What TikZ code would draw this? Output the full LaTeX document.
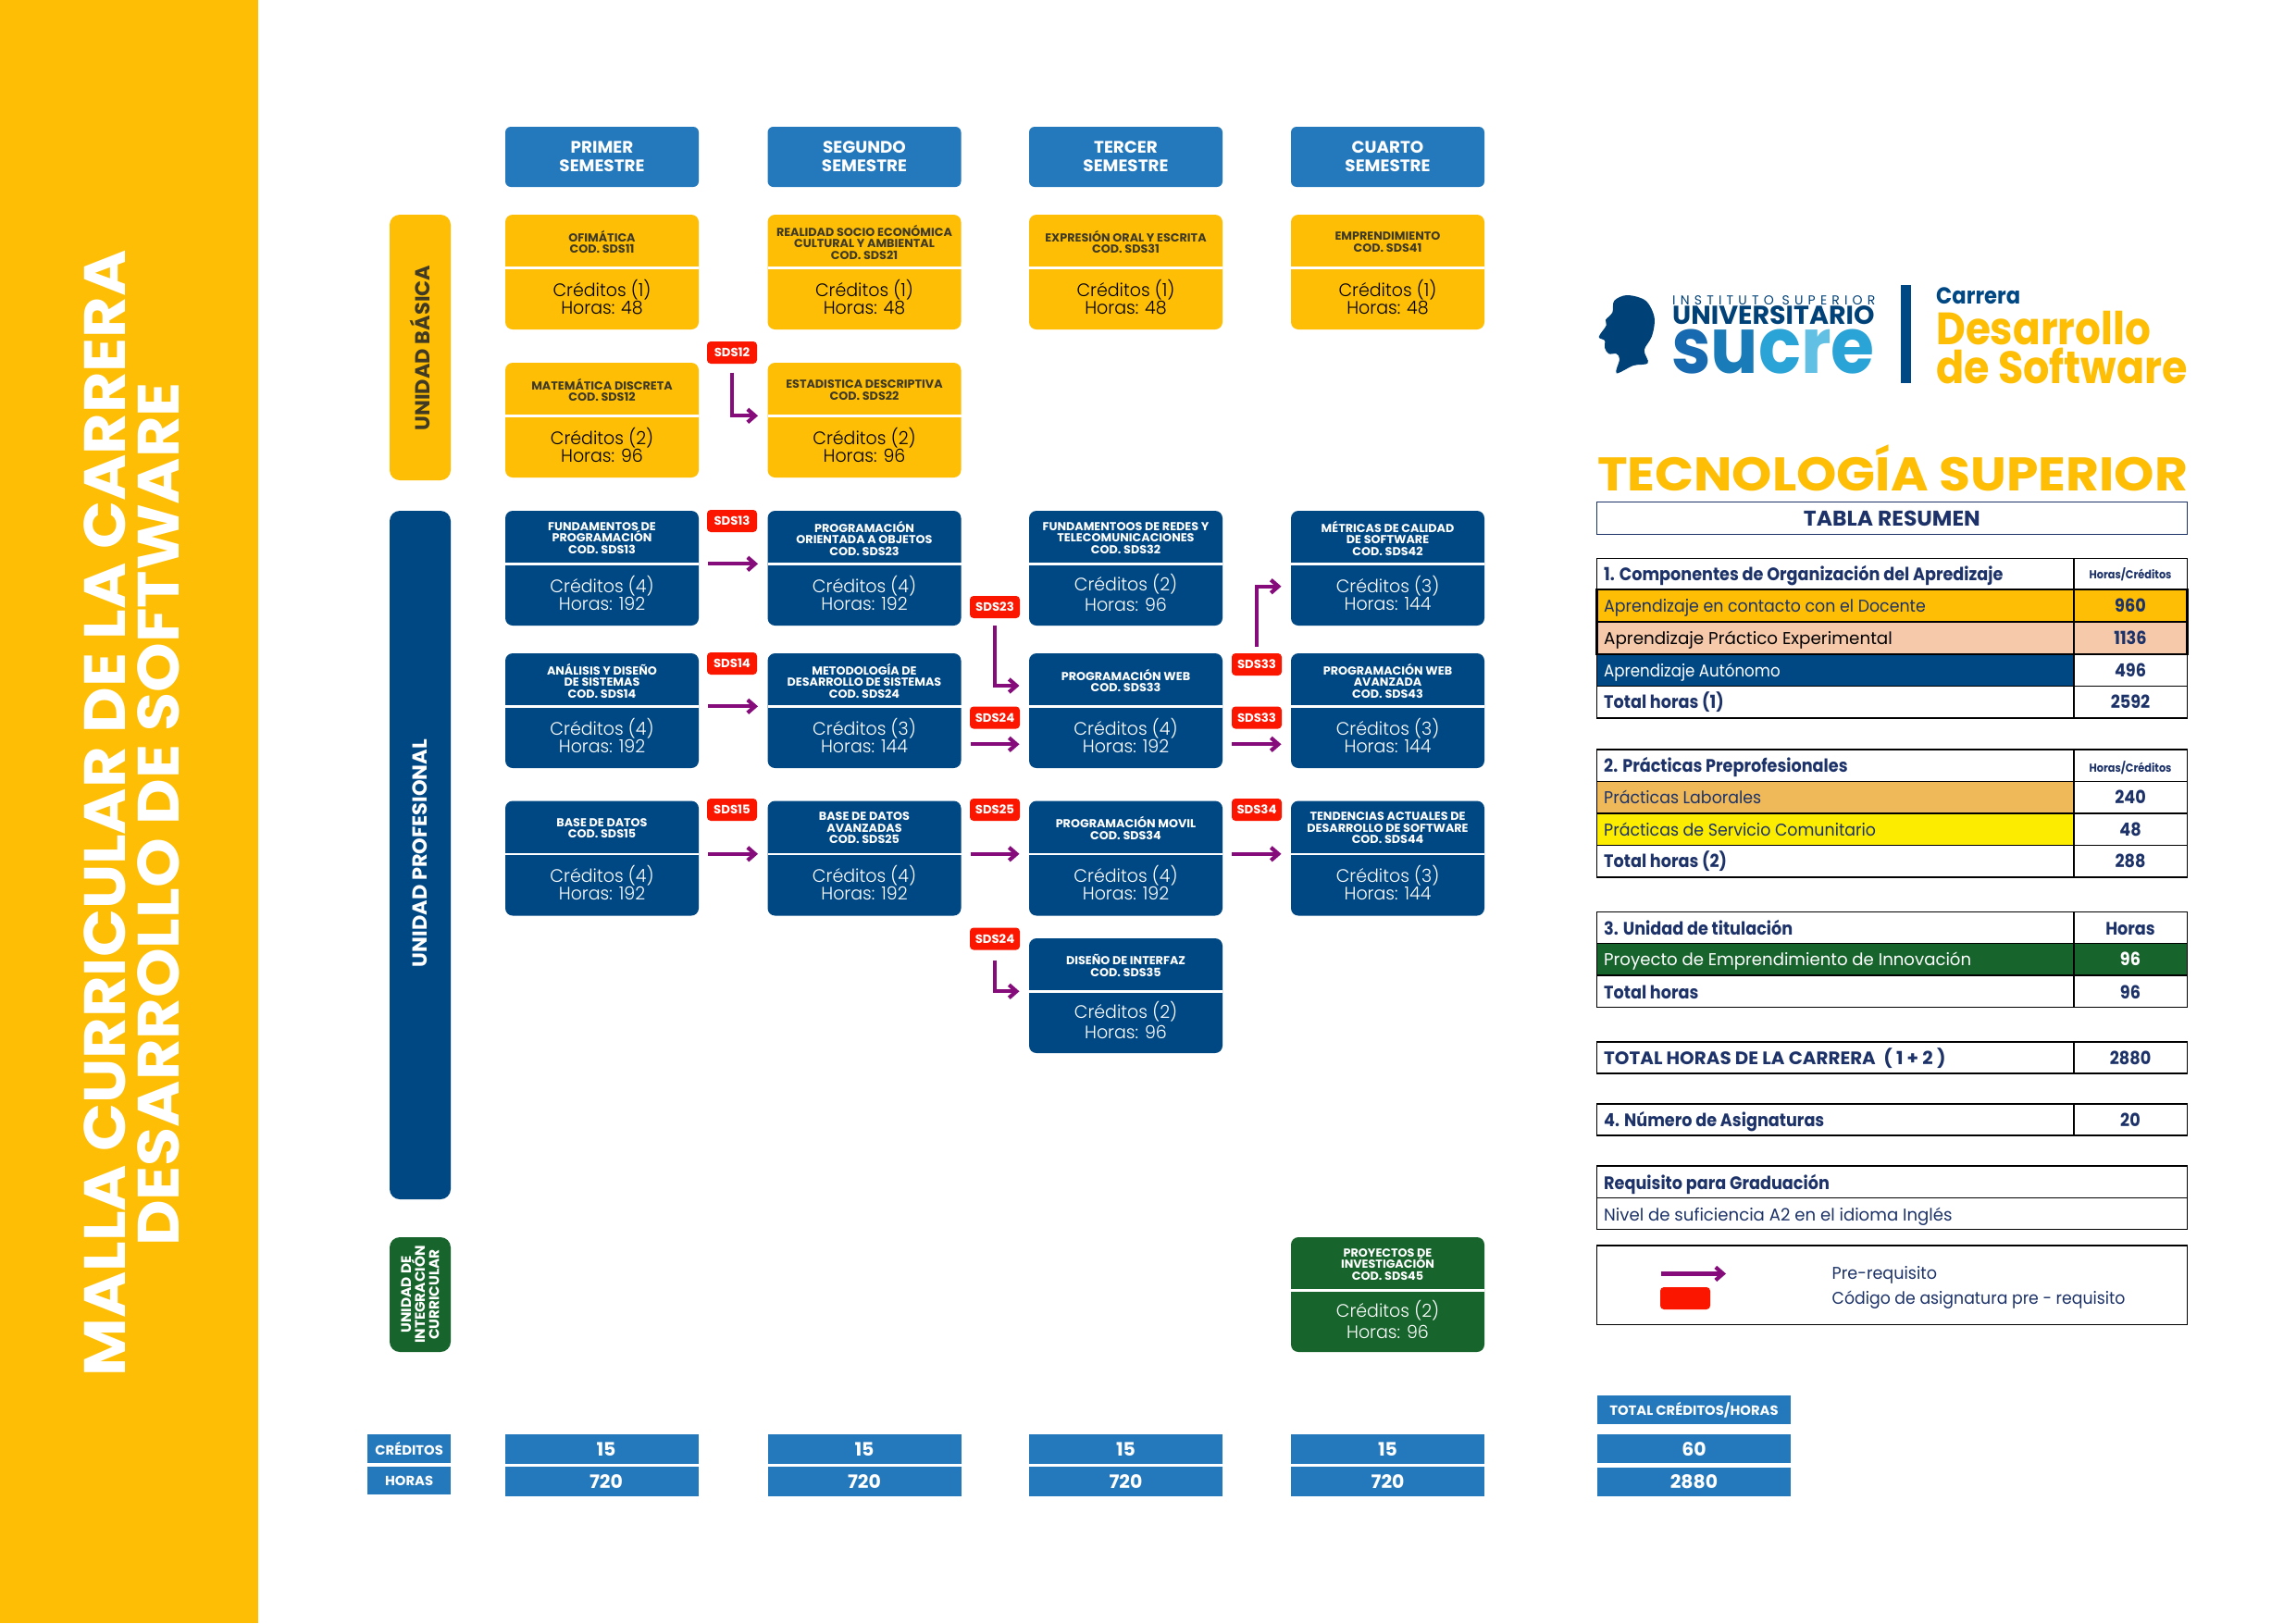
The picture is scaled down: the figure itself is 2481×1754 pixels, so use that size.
\documentclass[tikz,border=0pt]{standalone}
\usepackage{fontspec}
\usepackage{graphicx}
\usetikzlibrary{arrows.meta,calc}
\setmainfont{Poppins}
\newfontfamily\hvy{Poppins}[FakeStretch=1.02,BoldFont={Poppins Bold}]
\newfontfamily\sem{Poppins}[FakeStretch=0.905,BoldFont={Poppins Bold}]
\newfontfamily\lgt{Poppins Light}[FakeStretch=0.975]
\newfontfamily\reg{Poppins}
\newfontfamily\ttl{Poppins}[FakeStretch=1.085,BoldFont={Poppins Bold}]
\newcommand{\sx}[2]{\scalebox{#1}[1]{#2}}
\definecolor{band}{HTML}{FDBE05}
\definecolor{hdrblue}{HTML}{2478BC}
\definecolor{navy}{HTML}{004884}
\definecolor{dgreen}{HTML}{17652C}
\definecolor{tagred}{HTML}{FB1600}
\definecolor{prp}{HTML}{860C7C}
\definecolor{txtnavy}{HTML}{1C3268}
\definecolor{peach}{HTML}{F6C9AA}
\definecolor{orng}{HTML}{EFB95A}
\definecolor{yelw}{HTML}{FBEC00}
\definecolor{dtitle}{HTML}{403A25}
\tikzset{
  x=1pt,y=-1pt,
  cardbox/.style={rectangle,rounded corners=8pt,inner sep=0pt,outer sep=0pt,minimum width=209pt,minimum height=124pt,anchor=north west},
  headbox/.style={rectangle,rounded corners=6pt,fill=hdrblue,inner sep=0pt,outer sep=0pt,minimum width=209pt,minimum height=65pt,anchor=north west,text=white,align=center,font=\hvy\bfseries\fontsize{18}{20}\selectfont},
  unitbox/.style={rectangle,rounded corners=11pt,inner sep=0pt,outer sep=0pt,minimum width=66pt,anchor=north west},
  statbox/.style={rectangle,fill=hdrblue,inner sep=0pt,outer sep=0pt,anchor=north west,text=white,font=\hvy\bfseries\fontsize{20}{20}\selectfont},
  tagbox/.style={rectangle,rounded corners=4pt,fill=tagred,inner sep=0pt,outer sep=0pt,minimum width=54pt,minimum height=24pt,anchor=north west,text=white,font=\hvy\bfseries\fontsize{13}{13}\selectfont},
  pre/.style={draw=prp,line width=4.2pt,-{Straight Barb[length=8pt,width=14pt]}},
  ctitle/.style={align=center,inner sep=0pt,font=\hvy\bfseries\fontsize{12.5}{12.5}\selectfont},
  cbody/.style={align=center,inner sep=0pt,font=\lgt\fontsize{19.5}{19}\selectfont},
  rowline/.style={draw=black,line width=1.6pt},
  tlabel/.style={anchor=base west,yshift=-6.9pt,inner sep=0pt,font=\sem\bfseries\fontsize{19.5}{19.5}\selectfont,text=txtnavy},
  tbody/.style={anchor=base west,yshift=-6.5pt,inner sep=0pt,font=\reg\fontsize{18.5}{18.5}\selectfont},
  tval/.style={anchor=base,yshift=-6.9pt,inner sep=0pt,font=\sem\bfseries\fontsize{19.5}{19.5}\selectfont,text=txtnavy},
  tsmall/.style={anchor=base,yshift=-4.4pt,inner sep=0pt,font=\sem\bfseries\fontsize{12.5}{12.5}\selectfont,text=txtnavy},
  logotxt/.style={inner sep=0pt,anchor=base west},
}
\def\bodygap{0pt}
% course card: name, x, y, fill, text colour of title, text colour of body, title, credits, hours
\newcommand{\card}[9]{%
  \node[cardbox,fill=#4] (#1) at (#2,#3) {};
  \coordinate (#1-l) at (#2,#3+57.3);
  \coordinate (#1-r) at (#2+209,#3+57.3);
  \draw[white,line width=2.6pt] (#1-l) -- (#1-r);
  \node[ctitle,text=#5] (#1-t) at (#2+104.5,#3+29.5) {#7};
  \node[cbody,text=#6] (#1-b) at (#2+104.5,#3+88.7) {Créditos (#8)\\[\bodygap]Horas: #9};
}
\begin{document}
\begin{tikzpicture}
\useasboundingbox (0,0) rectangle (2481,1754);
\fill[white] (0,0) rectangle (2481,1754);
\fill[band] (0,0) rectangle (279,1754);
\node[rotate=90,inner sep=0pt,text=white,font=\ttl\bfseries\fontsize{63}{63}\selectfont] (title1) at (113,879) {MALLA CURRICULAR DE LA CARRERA};
\node[rotate=90,inner sep=0pt,text=white,font=\ttl\bfseries\fontsize{63}{63}\selectfont] (title2) at (171,880) {DESARROLLO DE SOFTWARE};

% semester headers
\node[headbox] (h1) at (546,137) {PRIMER\\SEMESTRE};
\node[headbox] (h2) at (829.5,137) {SEGUNDO\\SEMESTRE};
\node[headbox] (h3) at (1112,137) {TERCER\\SEMESTRE};
\node[headbox] (h4) at (1395,137) {CUARTO\\SEMESTRE};

% unit bars
\node[unitbox,fill=band,minimum height=287pt] (ub) at (421,232) {};
\node[rotate=90,inner sep=0pt,text=dtitle,font=\hvy\bfseries\fontsize{22}{22}\selectfont] (ubt) at (454,376) {UNIDAD BÁSICA};
\node[unitbox,fill=navy,minimum height=744pt] (up) at (421,552) {};
\node[rotate=90,inner sep=0pt,text=white,font=\hvy\bfseries\fontsize{22}{22}\selectfont] (upt) at (454,922) {UNIDAD PROFESIONAL};
\node[unitbox,fill=dgreen,minimum height=124pt] (ui) at (421,1337) {};
\node[rotate=90,inner sep=0pt,text=white,align=center,font=\hvy\bfseries\fontsize{15}{15.2}\selectfont] (uit) at (454,1399) {UNIDAD DE\\INTEGRACIÓN\\CURRICULAR};

% cards
\card{c11}{546}{232}{band}{dtitle}{black}{OFIMÁTICA\\COD. SDS11}{1}{48}
\card{c21}{829.5}{232}{band}{dtitle}{black}{REALIDAD SOCIO ECONÓMICA\\CULTURAL Y AMBIENTAL\\COD. SDS21}{1}{48}
\card{c31}{1112}{232}{band}{dtitle}{black}{EXPRESIÓN ORAL Y ESCRITA\\COD. SDS31}{1}{48}
\card{c41}{1395}{232}{band}{dtitle}{black}{EMPRENDIMIENTO\\COD. SDS41}{1}{48}
\card{c12}{546}{392}{band}{dtitle}{black}{MATEMÁTICA DISCRETA\\COD. SDS12}{2}{96}
\card{c22}{829.5}{392}{band}{dtitle}{black}{ESTADISTICA DESCRIPTIVA\\COD. SDS22}{2}{96}
\card{c13}{546}{552}{navy}{white}{white}{FUNDAMENTOS DE\\PROGRAMACIÓN\\COD. SDS13}{4}{192}
\card{c23}{829.5}{552}{navy}{white}{white}{PROGRAMACIÓN\\ORIENTADA A OBJETOS\\COD. SDS23}{4}{192}
\def\bodygap{3.5pt}
\card{c32}{1112}{552}{navy}{white}{white}{FUNDAMENTOOS DE REDES Y\\TELECOMUNICACIONES\\COD. SDS32}{2}{96}
\def\bodygap{0pt}
\card{c42}{1395}{552}{navy}{white}{white}{MÉTRICAS DE CALIDAD\\DE SOFTWARE\\COD. SDS42}{3}{144}
\card{c14}{546}{706}{navy}{white}{white}{ANÁLISIS Y DISEÑO\\DE SISTEMAS\\COD. SDS14}{4}{192}
\card{c24}{829.5}{706}{navy}{white}{white}{METODOLOGÍA DE\\DESARROLLO DE SISTEMAS\\COD. SDS24}{3}{144}
\card{c33}{1112}{706}{navy}{white}{white}{PROGRAMACIÓN WEB\\COD. SDS33}{4}{192}
\card{c43}{1395}{706}{navy}{white}{white}{PROGRAMACIÓN WEB\\AVANZADA\\COD. SDS43}{3}{144}
\card{c15}{546}{865.5}{navy}{white}{white}{BASE DE DATOS\\COD. SDS15}{4}{192}
\card{c25}{829.5}{865.5}{navy}{white}{white}{BASE DE DATOS\\AVANZADAS\\COD. SDS25}{4}{192}
\card{c34}{1112}{865.5}{navy}{white}{white}{PROGRAMACIÓN MOVIL\\COD. SDS34}{4}{192}
\card{c44}{1395}{865.5}{navy}{white}{white}{TENDENCIAS ACTUALES DE\\DESARROLLO DE SOFTWARE\\COD. SDS44}{3}{144}
\def\bodygap{3.5pt}
\card{c35}{1112}{1014}{navy}{white}{white}{DISEÑO DE INTERFAZ\\COD. SDS35}{2}{96}
\card{c45}{1395}{1337}{dgreen}{white}{white}{PROYECTOS DE\\INVESTIGACIÓN\\COD. SDS45}{2}{96}
\def\bodygap{0pt}

% tags
\node[tagbox] (t12) at (764,369) {SDS12};
\node[tagbox] (t13) at (764,551) {SDS13};
\node[tagbox] (t14) at (764,705) {SDS14};
\node[tagbox] (t15) at (764,863) {SDS15};
\node[tagbox] (t23) at (1048,644) {SDS23};
\node[tagbox] (t24) at (1048,763.5) {SDS24};
\node[tagbox] (t25) at (1048,863) {SDS25};
\node[tagbox] (t24b) at (1048,1002.5) {SDS24};
\node[tagbox] (t33a) at (1331,706) {SDS33};
\node[tagbox] (t33b) at (1331,763.5) {SDS33};
\node[tagbox] (t34) at (1331,863) {SDS34};

% connectors
\tikzset{gap/.style={shorten <=10pt,shorten >=10.5pt}}
\draw[pre,gap] (c13-r) -- (c23-l);
\draw[pre,gap] (c14-r) -- (c24-l);
\draw[pre,gap] (c15-r) -- (c25-l);
\draw[pre,gap] (c25-r) -- (c34-l);
\draw[pre,gap] (c34-r) -- (c44-l);
\coordinate (c33in1) at (1112,741);
\coordinate (c33in2) at (1112,804.3);
\coordinate (c43in) at (1395,804.3);
\coordinate (c42in) at (1395,633.7);
\coordinate (c24out) at (1038.5,804.3);
\coordinate (c33out) at (1321,804.3);
\draw[pre,gap] (c24out) -- (c33in2);
\draw[pre,gap] (c33out) -- (c43in);
\draw[pre,shorten <=9.5pt,shorten >=10.5pt] (t12.south) |- (c22-l);
\draw[pre,shorten <=8pt,shorten >=10.5pt] (t23.south) |- (c33in1);
\draw[pre,shorten <=7pt,shorten >=10.5pt] (t33a.north) |- (c42in);
\draw[pre,shorten <=11pt,shorten >=10.5pt] (t24b.south) |- (c35-l);

% bottom totals
\node[statbox,minimum width=89.6pt,minimum height=31pt,font=\hvy\bfseries\fontsize{14.5}{14.5}\selectfont] (lc) at (397.4,1550) {CRÉDITOS};
\node[statbox,minimum width=89.6pt,minimum height=30pt,font=\hvy\bfseries\fontsize{14.5}{14.5}\selectfont] (lh) at (397.4,1585) {HORAS};
\node[statbox,minimum width=209pt,minimum height=32pt] (cr1) at (546,1549.7) {\hspace*{9pt}15};
\node[statbox,minimum width=209pt,minimum height=32pt] (hr1) at (546,1585) {\hspace*{9pt}720};
\foreach \n/\x in {2/829.5,3/1112,4/1395}{
  \node[statbox,minimum width=209pt,minimum height=32pt] (cr\n) at (\x,1549.7) {15};
  \node[statbox,minimum width=209pt,minimum height=32pt] (hr\n) at (\x,1585) {720};
}
\node[statbox,minimum width=209pt,minimum height=31pt,font=\hvy\bfseries\fontsize{14.5}{14.5}\selectfont] (tct) at (1726,1508) {\raisebox{-3.5pt}{TOTAL CRÉDITOS/HORAS}};
\node[statbox,minimum width=209pt,minimum height=31.4pt] (tc) at (1726,1550) {60};
\node[statbox,minimum width=209pt,minimum height=31.4pt] (th) at (1726,1585.5) {2880};

% logo
\fill[navy!90!black] plot[smooth cycle,tension=0.55] coordinates {(1758.3,319) (1778.3,325) (1787.7,343.3) (1785,363.3) (1776.7,378.3) (1780.7,392.3) (1765,395) (1746.7,403.3) (1750,388.3) (1746.7,382.3) (1738.3,382.3) (1734,375.7) (1734,368) (1727.7,364) (1735.7,351.7) (1735,345.7) (1742.3,337.7) (1744.3,325)};
\node[logotxt,text=navy!90!black,font=\reg\fontsize{14}{14}\selectfont] (lg1) at (1807,329) {\addfontfeature{LetterSpace=37}INSTITUTO SUPERIOR};
\node[logotxt,text=navy!90!black,font=\hvy\bfseries\fontsize{28}{28}\selectfont] (lg2) at (1807,350.7) {UNIVERSITARIO};
\node[logotxt,font=\hvy\bfseries\fontsize{84}{84}\selectfont] (lg3) at (1806,403) {\sx{0.89}{\textcolor[HTML]{1769B0}{s}\textcolor[HTML]{197CB8}{u}\textcolor[HTML]{2AA3D6}{c}\textcolor[HTML]{62C0E4}{r}\textcolor[HTML]{2AA3D6}{e}}};
\fill[navy] (2053.6,308) rectangle (2064.7,414);
\node[logotxt,text=navy,font=\sem\bfseries\fontsize{25}{25}\selectfont] (lg4) at (2092,328) {Carrera};
\node[logotxt,text=band,font=\hvy\bfseries\fontsize{49}{49}\selectfont] (lg5) at (2092,372) {\sx{0.875}{Desarrollo}};
\node[logotxt,text=band,font=\hvy\bfseries\fontsize{49}{49}\selectfont] (lg6) at (2092,414) {\sx{0.89}{de Software}};

\node[inner sep=0pt,anchor=base,text=band,font=\hvy\bfseries\fontsize{51}{51}\selectfont] (tec) at (2045,530) {\sx{1.06}{TECNOLOGÍA SUPERIOR}};
\node[rectangle,draw=txtnavy,line width=1.2pt,inner sep=0pt,outer sep=0pt,anchor=north west,minimum width=638pt,minimum height=34.6pt,text=txtnavy,font=\hvy\bfseries\fontsize{23}{23}\selectfont] (tr) at (1725.4,542.7) {TABLA RESUMEN};

% table 1
\fill[band] (1725.4,637.3) rectangle (2363.4,672);
\fill[peach] (1725.4,672) rectangle (2363.4,706.7);
\fill[navy] (1725.4,706.7) rectangle (2241,741.3);
\draw[rowline] (1725.4,603.3) rectangle (2363.4,775.7);
\draw[rowline] (2241,603.3) -- (2241,775.7);
\draw[rowline] (1725.4,741.3) -- (2363.4,741.3);
\draw[rowline,line width=2.2pt] (1725.4,637.3) rectangle (2363.4,706.7);
\draw[rowline,line width=2.2pt] (1725.4,672) -- (2363.4,672);
\node[tlabel] (a1) at (1733,621) {1. Componentes de Organización del Apredizaje};
\node[tsmall] (a1v) at (2302,621) {Horas/Créditos};
\node[tbody,text=txtnavy] (a2) at (1733,655) {\sx{0.94}{Aprendizaje en contacto con el Docente}};
\node[tval] (a2v) at (2302,655) {960};
\node[tbody,text=black] (a3) at (1733,689.5) {\sx{0.99}{Aprendizaje Práctico Experimental}};
\node[tval] (a3v) at (2302,689.5) {1136};
\node[tbody,text=white] (a4) at (1733,724.5) {\sx{0.90}{Aprendizaje Autónomo}};
\node[tval] (a4v) at (2302,724.5) {496};
\node[tlabel] (a5) at (1733,759) {Total horas (1)};
\node[tval] (a5v) at (2302,759) {2592};

% table 2
\fill[orng] (1725.4,844.3) rectangle (2241,879);
\fill[yelw] (1725.4,879) rectangle (2241,913.3);
\draw[rowline] (1725.4,810) rectangle (2363.4,947.7);
\draw[rowline] (2241,810) -- (2241,947.7);
\foreach \y in {844.3,879,913.3}{\draw[rowline] (1725.4,\y) -- (2363.4,\y);}
\node[tlabel] (b1) at (1733,828) {2. Prácticas Preprofesionales};
\node[tsmall] (b1v) at (2302,830) {Horas/Créditos};
\node[tbody,text=txtnavy] (b2) at (1733,861.5) {\sx{0.94}{Prácticas Laborales}};
\node[tval] (b2v) at (2302,861.5) {240};
\node[tbody,text=txtnavy] (b3) at (1733,896.5) {\sx{0.94}{Prácticas de Servicio Comunitario}};
\node[tval] (b3v) at (2302,896.5) {48};
\node[tlabel] (b4) at (1733,931) {Total horas (2)};
\node[tval] (b4v) at (2302,931) {288};

% table 3
\fill[dgreen] (1725.4,1019.3) rectangle (2363.4,1054);
\draw[rowline] (1725.4,985.3) rectangle (2363.4,1088.3);
\draw[rowline] (2241,985.3) -- (2241,1088.3);
\foreach \y in {1019.3,1054}{\draw[rowline] (1725.4,\y) -- (2363.4,\y);}
\node[tlabel] (d1) at (1733,1003.5) {3. Unidad de titulación};
\node[tval] (d1v) at (2302,1003.5) {Horas};
\node[tbody,text=white] (d2) at (1733,1036.5) {\sx{0.98}{Proyecto de Emprendimiento de Innovación}};
\node[tval,text=white] (d2v) at (2302,1036.5) {96};
\node[tlabel] (d3) at (1733,1072.5) {Total horas};
\node[tval] (d3v) at (2302,1072.5) {96};

% total rows
\draw[rowline] (1725.4,1125.7) rectangle (2363.4,1160);
\draw[rowline] (2241,1125.7) -- (2241,1160);
\node[tlabel,font=\hvy\bfseries\fontsize{19.5}{19.5}\selectfont] (e1) at (1733,1143.5) {TOTAL HORAS DE LA CARRERA\ \ ( 1 + 2 )};
\node[tval] (e1v) at (2302,1143.5) {2880};
\draw[rowline] (1725.4,1192.9) rectangle (2363.4,1226.8);
\draw[rowline] (2241,1192.9) -- (2241,1226.8);
\node[tlabel] (f1) at (1733,1210.5) {4. Número de Asignaturas};
\node[tval] (f1v) at (2302,1210.5) {20};
\draw[rowline] (1725.4,1260) rectangle (2363.4,1328.6);
\draw[rowline] (1725.4,1294.6) -- (2363.4,1294.6);
\node[tlabel] (g1) at (1733,1278.5) {Requisito para Graduación};
\node[tbody,text=txtnavy] (g2) at (1733,1313) {\sx{0.98}{Nivel de suficiencia A2 en el idioma Inglés}};

% legend
\draw[rowline] (1725.4,1345.7) rectangle (2363.4,1431.4);
\coordinate (lga) at (1795,1376.4);
\coordinate (lgb) at (1865,1376.4);
\draw[pre] (lga) -- (lgb);
\node[tagbox] (lgt) at (1794,1391) {};
\node[tbody,text=txtnavy] (lg7) at (1979.5,1375.5) {\sx{0.95}{Pre-requisito}};
\node[tbody,text=txtnavy] (lg8) at (1979.5,1403) {\sx{0.935}{Código de asignatura pre - requisito}};
\end{tikzpicture}
\end{document}
